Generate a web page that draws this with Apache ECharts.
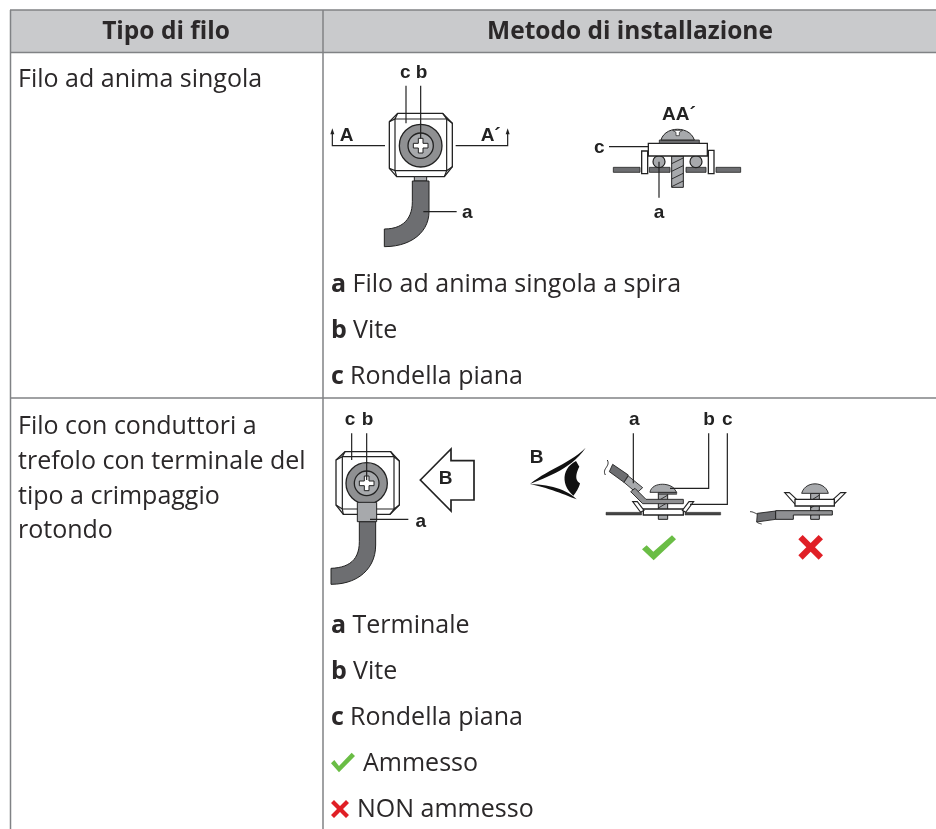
<!DOCTYPE html>
<html><head><meta charset="utf-8">
<style>html,body{margin:0;padding:0;background:#fff}#c{width:936px;height:829px}</style>
<script src="https://cdn.jsdelivr.net/npm/echarts@6/dist/echarts.min.js"></script>
</head><body><div id="c"></div>
<script>
var headers = ["Tipo di filo", "Metodo di installazione"];
var wireTypes = [["Filo ad anima singola"], ["Filo con conduttori a", "trefolo con terminale del", "tipo a crimpaggio", "rotondo"]];
var notes1 = [["a", "Filo ad anima singola a spira"], ["b", "Vite"], ["c", "Rondella piana"]];
var notes2 = [["a", "Terminale"], ["b", "Vite"], ["c", "Rondella piana"]];
var allowed = "Ammesso", denied = "NON ammesso";

var INK = "#2b2829", LINE = "#808285", HEAD = "#c9cacc", G1 = "#a7a9ac", G2 = "#8f9092", G3 = "#6d6e71", GREEN = "#6abd45", RED = "#e01f26";
var SANS = '"Open Sans", sans-serif', ARIAL = '"Liberation Sans", Arial, sans-serif';
var els = [];
var O = [0, 0];
function at(o) { O = o; }
function X(x) { return O[0] + x / 3; }
function Y(y) { return O[1] + y / 3; }
function pts(a) { return a.map(function (p) { return [X(p[0]), Y(p[1])]; }); }
function poly(a, fill, stroke, w) { els.push({ type: "polygon", silent: true, shape: { points: pts(a) }, style: { fill: fill || "none", stroke: stroke || "none", lineWidth: w == null ? 1.2 : w } }); }
function line(a, stroke, w) { els.push({ type: "polyline", silent: true, shape: { points: pts(a) }, style: { fill: "none", stroke: stroke || "#222", lineWidth: w == null ? 1.2 : w } }); }
function circ(x, y, r, fill, stroke, w) { els.push({ type: "circle", silent: true, shape: { cx: X(x), cy: Y(y), r: r / 3 }, style: { fill: fill, stroke: stroke || "#222", lineWidth: w == null ? 1.2 : w } }); }
function rect(x0, y0, x1, y1, fill, stroke, w) { poly([[x0, y0], [x1, y0], [x1, y1], [x0, y1]], fill, stroke, w); }
function bez(p0, p1, p2, p3) { var r = []; for (var i = 0; i <= 14; i++) { var t = i / 14, u = 1 - t; r.push([u * u * u * p0[0] + 3 * u * u * t * p1[0] + 3 * u * t * t * p2[0] + t * t * t * p3[0], u * u * u * p0[1] + 3 * u * u * t * p1[1] + 3 * u * t * t * p2[1] + t * t * t * p3[1]]); } return r; }
function txt(s, x, y, o) { o = o || {}; els.push({ type: "text", silent: true, x: x, y: y, style: { text: s, fill: o.fill || INK, font: (o.bold ? "bold " : "") + (o.size || 25) + "px " + (o.family || SANS), textAlign: o.align || "left", textVerticalAlign: "middle" } }); }
function lab(s, x, y) { txt(s, X(x), Y(y), { bold: true, size: 19, family: ARIAL, align: "center", fill: "#222" }); }
function absLine(x0, y0, x1, y1, c, w) { els.push({ type: "line", silent: true, shape: { x1: x0, y1: y0, x2: x1, y2: y1 }, style: { stroke: c, lineWidth: w } }); }
function plus(cx, cy, h, t) { poly([[cx - t, cy - h], [cx + t, cy - h], [cx + t, cy - t], [cx + h, cy - t], [cx + h, cy + t], [cx + t, cy + t], [cx + t, cy + h], [cx - t, cy + h], [cx - t, cy + t], [cx - h, cy + t], [cx - h, cy - t], [cx - t, cy - t]], "#fff", "#222", 1); }
function check(cx, cy, k) { poly([[-50, 5], [-36, -7], [-16, 12], [40, -37], [52, -25], [-15, 38]].map(function (p) { return [cx + p[0] * k, cy + p[1] * k]; }), GREEN); }
function cross(cx, cy, h, t) { poly([[-h, -h + t], [-h + t, -h], [0, -t], [h - t, -h], [h, -h + t], [t, 0], [h, h - t], [h - t, h], [0, t], [-h + t, h], [-h, h - t], [-t, 0]].map(function (p) { return [cx + p[0], cy + p[1]]; }), RED); }
function hatch(x0, y0, x1, y1, step) { for (var y = y0 + step; y < y1 + 1; y += step) line([[x0, y], [x1, y - step * 0.75]], "#222", 0.9); }

/* table frame */
at([0, 0]);
els.push({ type: "rect", silent: true, shape: { x: 10, y: 10, width: 926, height: 42 }, style: { fill: HEAD } });
absLine(10, 10, 936, 10, LINE, 1.5);
absLine(10, 52.5, 936, 52.5, LINE, 1.5);
absLine(10, 398, 936, 398, LINE, 1.5);
absLine(10.5, 10, 10.5, 829, LINE, 1.5);
absLine(323, 10, 323, 829, LINE, 1.5);
txt(headers[0], 166, 32.5, { bold: true, align: "center", size: 24.5 });
txt(headers[1], 630, 32.5, { bold: true, align: "center", size: 24.5 });
txt(wireTypes[0][0], 18, 80);
[427, 462, 497, 531].forEach(function (y, i) { txt(wireTypes[1][i], 18, y); });
var noteX = [352.5, 353, 350];
[285, 331, 377].forEach(function (y, i) { txt(notes1[i][0], 331, y, { bold: true }); txt(notes1[i][1], noteX[i], y); });
[626, 672, 718].forEach(function (y, i) { txt(notes2[i][0], 331, y, { bold: true }); txt(notes2[i][1], noteX[i], y); });
txt(allowed, 363, 764);
txt(denied, 357, 810);
at([320, 740]);
poly([[33, 70], [43, 60], [57, 78], [95, 38], [105, 48], [57, 97]], GREEN);
cross(60, 207, 27, 9);

/* diagram 1: nut top view */
at([325, 55]);
poly([[218, 175], [353, 175], [382, 205], [382, 335], [358, 365], [215, 365], [193, 340], [193, 200]], "#fff", "#222", 1.3);
line([[218, 175], [210, 192], [365, 192], [353, 175]]);
line([[193, 200], [210, 192], [210, 347], [193, 340]]);
line([[382, 205], [365, 192], [365, 347], [382, 335]]);
line([[215, 365], [210, 347], [365, 347], [358, 365]]);
circ(287, 272, 64, G2, "#222", 1.3);
circ(287, 272, 38, G1, "#222", 1.3);
plus(287, 272, 22, 7);
line([[243, 92], [243, 205]]);
line([[287, 92], [287, 250]]);
line([[22, 235], [22, 272], [180, 272]]);
line([[392, 272], [548, 272], [548, 235]]);
poly([[22, 220], [28, 238], [16, 238]], "#222");
poly([[548, 220], [554, 238], [542, 238]], "#222");
rect(268, 365, 305, 378, G1, "#222", 1);
poly([[262, 378], [312, 378]].concat(bez([312, 470], [312, 530], [260, 575], [178, 575])).concat(bez([178, 522], [235, 522], [262, 490], [262, 440])), G3, "#222", 1);
line([[295, 470], [395, 470]]);
lab("c", 241, 52); lab("b", 290, 52); lab("A", 65, 242); lab("A´", 497, 242); lab("a", 427, 473);

/* diagram 2: section AA' */
at([580, 95]);
rect(100, 217, 180, 232, G3, "#222", 0.8);
rect(208, 217, 270, 232, G3, "#222", 0.8);
rect(318, 217, 378, 232, G3, "#222", 0.8);
rect(408, 217, 482, 232, G3, "#222", 0.8);
circ(237, 200, 18, G1); circ(348, 200, 18, G1);
rect(275, 183, 310, 277, G1, "#222", 1);
hatch(275, 183, 310, 277, 23);
rect(185, 168, 203, 236, "#fff", "#222", 1.3);
rect(385, 166, 402, 236, "#fff", "#222", 1.3);
rect(205, 145, 382, 183, "#fff", "#222", 1.3);
rect(238, 135, 358, 145, G3, "#222", 0.8);
poly(bez([243, 135], [255, 92], [330, 92], [343, 135]), G1, "#222", 1);
poly([[278, 106], [308, 106], [298, 112], [298, 122], [288, 122], [288, 112]], "#fff", "#222", 0.7);
line([[87, 155], [205, 155]]);
line([[237, 200], [237, 308]]);
lab("AA´", 297, 60); lab("c", 58, 158); lab("a", 237, 352);

/* diagram 3: ring terminal top view */
at([325, 405]);
poly([[60, 140], [197, 140], [223, 168], [223, 300], [195, 328], [55, 328], [33, 300], [33, 165]], "#fff", "#222", 1.3);
line([[60, 140], [52, 155], [207, 155], [197, 140]]);
line([[33, 165], [52, 155], [52, 312], [33, 300]]);
line([[223, 168], [207, 155], [207, 312], [223, 300]]);
line([[55, 328], [52, 312], [207, 312], [195, 328]]);
poly([[103, 350], [152, 350]].concat(bez([152, 420], [152, 490], [100, 538], [18, 538])).concat(bez([18, 490], [72, 488], [103, 465], [103, 410])), G3, "#222", 1);
circ(125, 235, 62, G2, "#222", 1.3);
circ(125, 235, 37, G1, "#222", 1.3);
plus(125, 235, 22, 7);
rect(97, 292, 155, 350, G1, "#222", 1);
line([[80, 85], [80, 165]]);
line([[125, 85], [125, 225]]);
line([[135, 343], [250, 343]]);
poly([[286, 225], [378, 132], [378, 167], [447, 167], [447, 285], [378, 285], [378, 318]], "#fff", "#222", 1.7);
lab("c", 75, 45); lab("b", 128, 45); lab("a", 287, 350); lab("B", 362, 222);

/* diagram 4: eye and correct assembly */
at([520, 405]);
poly(bez([30, 237], [80, 195], [150, 175], [197, 128]).concat(bez([197, 128], [155, 190], [90, 212], [30, 237])), "#111");
poly(bez([30, 237], [90, 240], [135, 250], [170, 283]).concat(bez([170, 283], [130, 268], [90, 250], [30, 237])), "#111");
poly(bez([168, 168], [125, 190], [122, 240], [160, 272]).concat(bez([160, 272], [168, 262], [176, 250], [180, 235])).concat(bez([180, 235], [163, 225], [168, 205], [178, 185])), "#111");
line(bez([262, 165], [272, 185], [245, 190], [256, 210]), "#222", 1);
poly([[278, 178], [325, 210], [312, 232], [268, 200]], G3, "#222", 0.9);
poly([[325, 213], [368, 248], [350, 264], [312, 232]], G1, "#222", 0.9);
rect(258, 322, 365, 330, "#444", "#333", 0.5);
rect(495, 322, 602, 330, "#444", "#333", 0.5);
rect(415, 265, 443, 343, G1, "#222", 1);
hatch(415, 265, 443, 343, 22);
rect(370, 312, 490, 330, "#fff", "#222", 1.3);
poly([[338, 290], [352, 290], [372, 316], [362, 322]], "#fff", "#222", 1.1);
poly([[521, 290], [507, 290], [487, 316], [497, 322]], "#fff", "#222", 1.1);
poly([[345, 250], [378, 283], [490, 283], [490, 296], [368, 296], [332, 260]], G2, "#222", 0.9);
rect(415, 262, 470, 268, G3, "#222", 0.6);
poly(bez([390, 262], [395, 232], [445, 232], [462, 250]).concat([[470, 262]]), G1, "#222", 0.9);
line([[340, 85], [340, 235]]);
line([[450, 250], [566, 250], [566, 85]]);
line([[510, 298], [622, 298], [622, 85]]);
lab("a", 343, 45); lab("b", 567, 45); lab("c", 622, 45); lab("B", 50, 158);
check(416, 428, 1);

/* diagram 5: incorrect assembly */
at([700, 460]);
rect(332, 100, 358, 178, G1, "#222", 1);
hatch(332, 100, 358, 178, 22);
poly(bez([305, 100], [315, 62], [375, 62], [385, 100]), G1, "#222", 0.9);
poly([[254, 98], [268, 98], [297, 125], [285, 132]], "#fff", "#222", 1.1);
poly([[437, 98], [422, 98], [392, 125], [403, 132]], "#fff", "#222", 1.1);
rect(285, 118, 403, 138, "#fff", "#222", 1.3);
poly([[172, 160], [227, 153], [227, 178], [170, 186]], G3, "#222", 0.9);
poly([[227, 152], [397, 152], [397, 165], [280, 165], [280, 178], [227, 178]], G2, "#222", 1);
line(bez([150, 155], [160, 155], [165, 160], [172, 162]), "#222", 1);
line(bez([170, 186], [175, 190], [178, 190], [185, 192]), "#222", 1);
cross(332, 262, 37, 13);

echarts.init(document.getElementById("c"), null, { renderer: "canvas" }).setOption({
  animation: false,
  graphic: { elements: els }
});
</script></body></html>
